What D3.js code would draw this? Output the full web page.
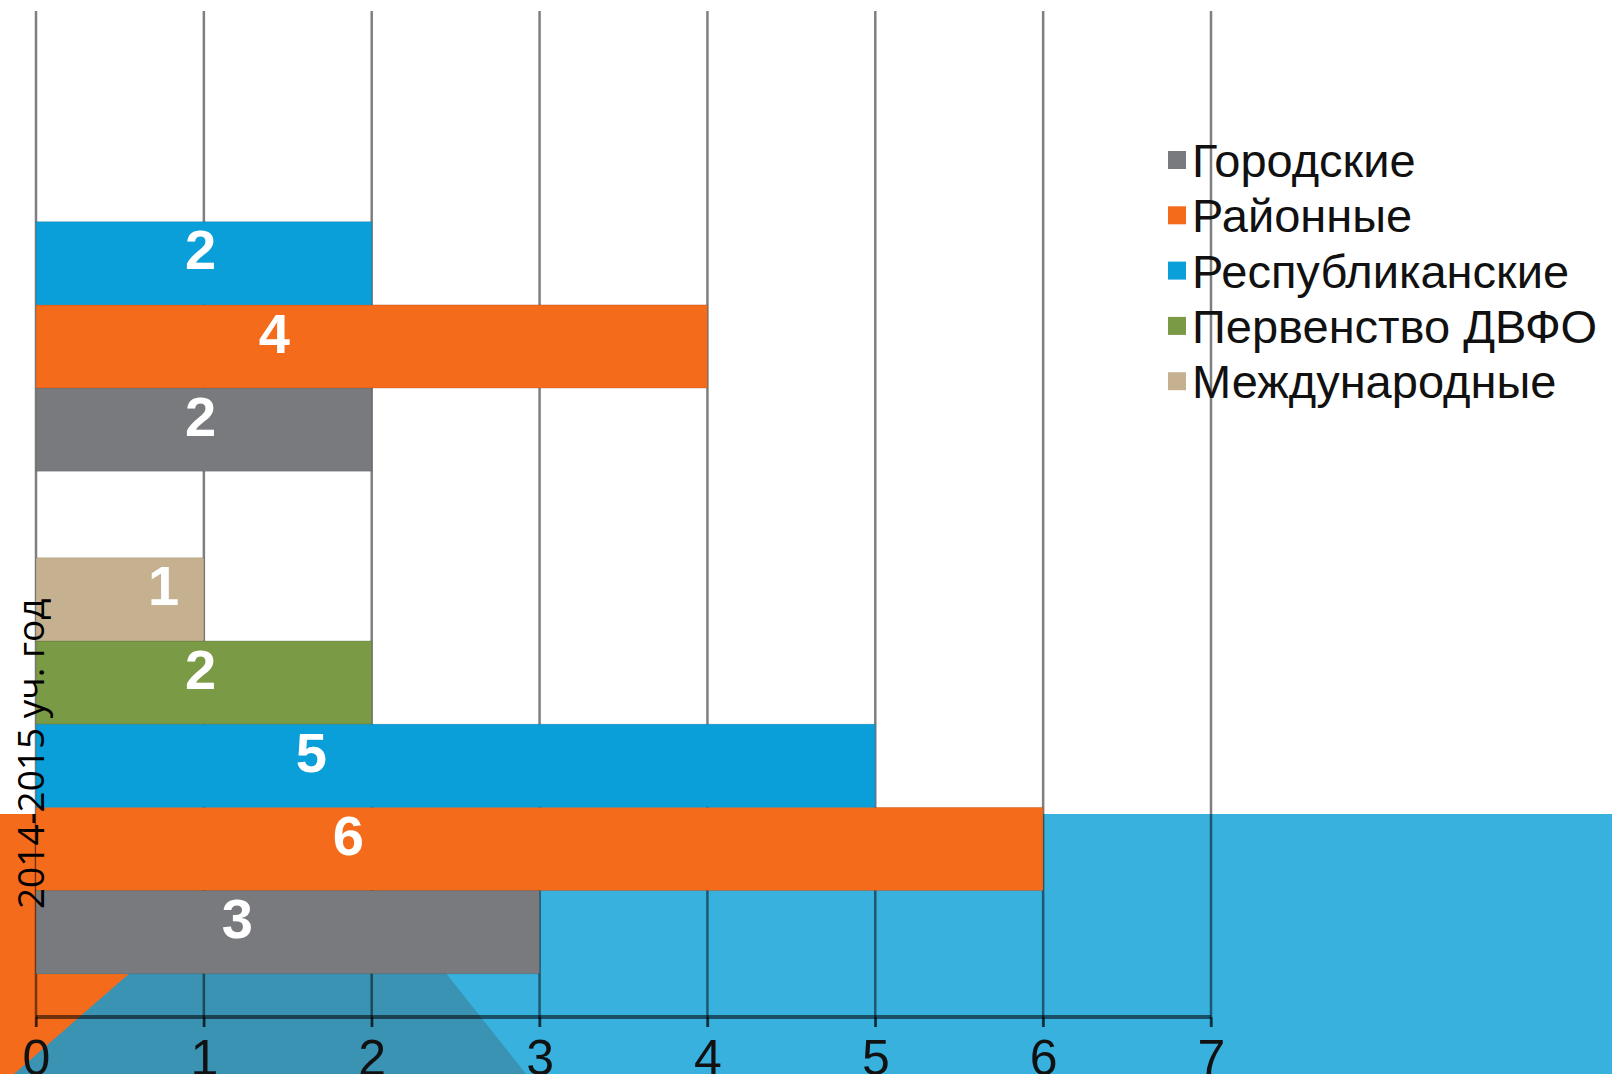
<!DOCTYPE html>
<html>
<head>
<meta charset="utf-8">
<script src="https://cdn.jsdelivr.net/npm/d3@7"></script>
<style>
  html, body { margin: 0; padding: 0; background: #fff; overflow: hidden; }
  svg { display: block; }
</style>
</head>
<body>
<script>
// chart data
const categories = ['', '2014-2015 уч. год']
const seriesNames = ['Городские', 'Районные', 'Республиканские', 'Первенство ДВФО', 'Международные']
const seriesColors = ['#797a7e', '#f56b1c', '#0a9fd8', '#7b9a45', '#c5b18f']
const gorodskie = [2, 3]
const raionnye = [4, 6]
const respublikanskie = [2, 5]
const pervenstvo = [0, 2]
const mezhdunarodnye = [0, 1]
const xTicks = [0, 1, 2, 3, 4, 5, 6, 7]

const seriesValues = [gorodskie, raionnye, respublikanskie, pervenstvo, mezhdunarodnye]

const W = 1612, H = 1074

const svg = d3.select('body').append('svg')
    .attr('width', W)
    .attr('height', H)

// slide background shapes
svg.append('rect')
    .attr('x', 0).attr('y', 814).attr('width', 200).attr('height', H - 814)
    .attr('fill', '#f56b1c')
svg.append('rect')
    .attr('x', 200).attr('y', 814).attr('width', W - 200).attr('height', H - 814)
    .attr('fill', '#39b1df')
svg.append('rect')
    .attr('x', 36).attr('y', 814).attr('width', 200).attr('height', 160)
    .attr('fill', '#39b1df')
svg.append('polygon')
    .attr('points', '131,972 445,972 526,1074 14,1074')
    .attr('fill', '#3a93b3')

// scales
const x = d3.scaleLinear()
    .domain([0, 7])
    .range([36, 1211])

const y = d3.scaleBand()
    .domain(categories)
    .range([12, 1017])
    .paddingInner(0.172)
    .paddingOuter(0.086)

// bars within a group go bottom-up in series order
const yInner = d3.scaleBand()
    .domain(seriesNames.slice().reverse())
    .range([0, y.bandwidth()])

// grid lines
svg.append('g')
    .selectAll('line')
    .data(xTicks)
    .enter().append('line')
    .attr('x1', d => x(d))
    .attr('x2', d => x(d))
    .attr('y1', 11)
    .attr('y2', 1027)
    .attr('stroke', 'rgba(0,0,0,0.5)')
    .attr('stroke-width', 2.5)

// bars
const bars = []
seriesNames.forEach((name, si) => {
    categories.forEach((cat, ci) => {
        bars.push({ name: name, cat: cat, value: seriesValues[si][ci], color: seriesColors[si] })
    })
})

svg.append('g')
    .selectAll('rect')
    .data(bars.filter(d => d.value > 0))
    .enter().append('rect')
    .attr('x', x(0))
    .attr('y', d => y(d.cat) + yInner(d.name))
    .attr('width', d => x(d.value) - x(0))
    .attr('height', yInner.bandwidth())
    .attr('fill', d => d.color)
    .attr('stroke', 'rgba(0,0,0,0.12)')
    .attr('stroke-width', 1)

// data labels (the original labels sit left of the bar centres)
svg.append('g')
    .selectAll('text')
    .data(bars.filter(d => d.value > 0))
    .enter().append('text')
    .attr('x', d => x(0.54 + 0.22 * d.value))
    .attr('y', d => y(d.cat) + yInner(d.name) + yInner.bandwidth() / 2 - 14)
    .attr('dy', '0.36em')
    .attr('text-anchor', 'middle')
    .attr('font-family', 'Liberation Sans, Arial, sans-serif')
    .attr('font-weight', 'bold')
    .attr('font-size', 56)
    .attr('fill', '#fff')
    .text(d => d.value)

// x axis
const xAxis = svg.append('g')
    .attr('transform', 'translate(0,1017)')
    .call(d3.axisBottom(x).tickValues(xTicks).tickSize(10).tickPadding(0).tickFormat(d3.format('d')))
xAxis.select('.domain')
    .attr('stroke', 'rgba(0,0,0,0.55)')
    .attr('stroke-width', 4)
    .attr('d', 'M' + x(0) + ',0H' + x(7))
xAxis.selectAll('.tick line')
    .attr('stroke', 'rgba(0,0,0,0.5)')
    .attr('stroke-width', 2.5)
xAxis.selectAll('.tick text')
    .attr('y', 58)
    .attr('dy', 0)
    .attr('font-family', 'Liberation Sans, Arial, sans-serif')
    .attr('font-size', 50)
    .attr('fill', '#111')

// category label
svg.append('g')
    .selectAll('text')
    .data(categories.filter(d => d !== ''))
    .enter().append('text')
    .attr('transform', d => 'translate(44,' + (y(d) + y.bandwidth() / 2 - 12) + ') rotate(-90)')
    .attr('text-anchor', 'middle')
    .attr('font-family', 'Open Sans, sans-serif')
    .attr('font-size', 37)
    .attr('fill', '#000')
    .text(d => d)

// legend
const legend = svg.append('g')
    .attr('transform', 'translate(1168,160)')
const item = legend.selectAll('g')
    .data(seriesNames)
    .enter().append('g')
    .attr('transform', (d, i) => 'translate(0,' + (i * 55.3) + ')')
item.append('rect')
    .attr('x', 0).attr('y', -9)
    .attr('width', 18).attr('height', 18)
    .attr('fill', (d, i) => seriesColors[i])
item.append('text')
    .attr('x', 24)
    .attr('y', 0)
    .attr('dy', '0.36em')
    .attr('font-family', 'Liberation Sans, Arial, sans-serif')
    .attr('font-size', 47)
    .attr('fill', '#111')
    .text(d => d)
</script>
</body>
</html>
